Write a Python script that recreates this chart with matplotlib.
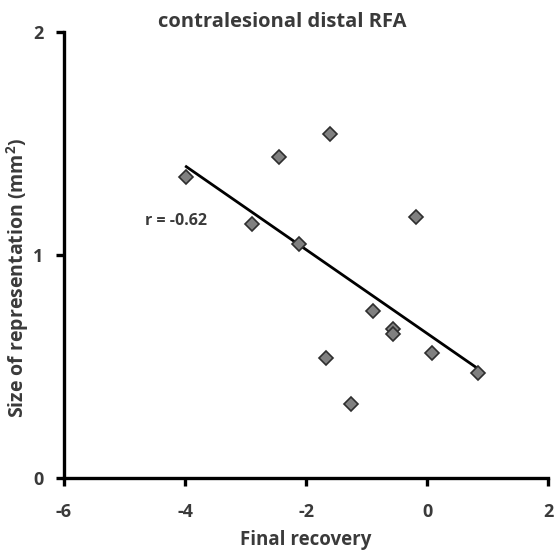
from matplotlib import pyplot as plt
from numpy import polyfit, array

# final recovery score vs. size of contralesional distal RFA
recovery = [-3.98, -2.89, -2.44, -2.11, -1.61, -1.665, -1.25,
            -0.89, -0.555, -0.555, -0.175, 0.084, 0.837]
area = [1.35, 1.14, 1.44, 1.05, 1.54, 0.54, 0.33,
        0.75, 0.67, 0.645, 1.17, 0.56, 0.47]
r_value = -0.62

plt.rcParams['font.family'] = ['Open Sans', 'DejaVu Sans']
plt.rcParams['font.weight'] = 'bold'
plt.rcParams['mathtext.fontset'] = 'custom'
plt.rcParams['mathtext.bf'] = 'Open Sans:bold'
text_color = '#3a3a3a'

fig = plt.figure(figsize=(5.57, 5.50), dpi=100)
ax = fig.add_axes([0.115, 0.131, 0.869, 0.811])

x = array(recovery)
a, b = polyfit(x, area, 1)
xs = array([x.min(), x.max()])
ax.plot(xs, a * xs + b, color='black', linewidth=2.0, zorder=2)
ax.plot(x, area, linestyle='none', marker='D', markersize=7.2,
        markerfacecolor='#808080', markeredgecolor='#2e2e2e',
        markeredgewidth=1.2, zorder=3)

ax.text(-4.66, 1.15, f'r = {r_value}', fontsize=11.5, fontweight='bold',
        color=text_color, va='center', ha='left')

ax.set_xlim(-6, 2)
ax.set_ylim(0, 2)
ax.set_xticks([-6, -4, -2, 0, 2])
ax.set_yticks([0, 1, 2])
ax.set_xticklabels(['-6', '-4', '-2', '0', '2'])
for side in ('top', 'right'):
    ax.spines[side].set_visible(False)
for side in ('left', 'bottom'):
    ax.spines[side].set_linewidth(2.4)
ax.tick_params(direction='out', length=6, width=2.4, labelsize=13,
               labelcolor=text_color)
ax.tick_params(axis='x', pad=12)
ax.tick_params(axis='y', pad=9)

ax.set_xlabel('Final recovery', fontsize=13.5, fontweight='bold',
              color=text_color)
ax.xaxis.set_label_coords(0.5, -0.117)
ax.set_ylabel('Size of representation (mm$\\mathbf{^2}$)', fontsize=14,
              fontweight='bold', color=text_color)
ax.yaxis.set_label_coords(-0.068, 0.448)
ax.set_title('contralesional distal RFA', fontsize=14.5, fontweight='bold',
             color=text_color, pad=3, x=0.45)

plt.savefig('out.png', dpi=100)
